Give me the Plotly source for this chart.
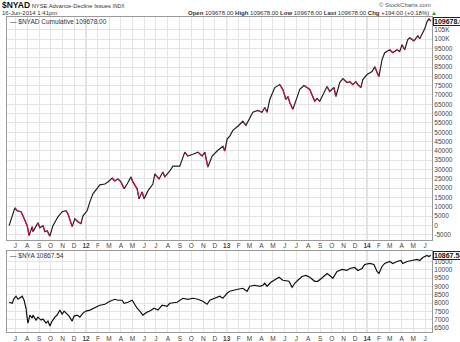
import plotly.graph_objects as go

# ---- $NYAD cumulative A/D line ----
nyad_dates = [
    "2011-06-15", "2011-06-30", "2011-07-06", "2011-07-16", "2011-07-21", "2011-08-01",
    "2011-08-06", "2011-08-14", "2011-08-16", "2011-08-29", "2011-09-03", "2011-09-11",
    "2011-09-16", "2011-09-22", "2011-09-29", "2011-10-07", "2011-10-20", "2011-10-31",
    "2011-11-10", "2011-11-15", "2011-11-26", "2011-12-03", "2011-12-11", "2011-12-19",
    "2011-12-24", "2012-01-04", "2012-01-11", "2012-01-19", "2012-02-06", "2012-02-19",
    "2012-02-27", "2012-03-09", "2012-03-16", "2012-03-24", "2012-04-01", "2012-04-09",
    "2012-04-17", "2012-04-27", "2012-05-02", "2012-05-13", "2012-05-18", "2012-05-26",
    "2012-05-31", "2012-06-10", "2012-06-23", "2012-06-28", "2012-07-09", "2012-07-19",
    "2012-07-24", "2012-08-06", "2012-08-14", "2012-09-01", "2012-09-14", "2012-09-22",
    "2012-10-05", "2012-10-18", "2012-10-29", "2012-11-05", "2012-11-13", "2012-11-24",
    "2012-12-07", "2012-12-14", "2012-12-22", "2012-12-27", "2013-01-02", "2013-01-09",
    "2013-01-17", "2013-01-30", "2013-02-12", "2013-02-20", "2013-03-02", "2013-03-10",
    "2013-03-23", "2013-04-03", "2013-04-10", "2013-04-16", "2013-04-23", "2013-05-06",
    "2013-05-19", "2013-05-27", "2013-06-04", "2013-06-09", "2013-06-14", "2013-06-22",
    "2013-07-03", "2013-07-10", "2013-07-21", "2013-07-29", "2013-08-05", "2013-08-18",
    "2013-08-24", "2013-08-31", "2013-09-11", "2013-09-19", "2013-09-26", "2013-10-07",
    "2013-10-12", "2013-10-22", "2013-10-30", "2013-11-10", "2013-11-17", "2013-11-25",
    "2013-12-03", "2013-12-08", "2013-12-16", "2013-12-21", "2014-01-01", "2014-01-14",
    "2014-01-21", "2014-01-27", "2014-02-01", "2014-02-09", "2014-02-16", "2014-03-01",
    "2014-03-09", "2014-03-20", "2014-03-27", "2014-04-02", "2014-04-09", "2014-04-17",
    "2014-04-22", "2014-05-03", "2014-05-13", "2014-05-18", "2014-05-26", "2014-05-31",
    "2014-06-06", "2014-06-11", "2014-06-16",
]
nyad_values = [
    -200, 9400, 7800, 7300, 5100, -200,
    -5500, -700, -3400, 1400, -1300, -200,
    -3400, -2900, -5800, -200, 4600, 7300,
    7800, 6200, -700, 3500, 1900, 900,
    5100, 7800, 12600, 16900, 21700, 22200,
    23300, 25400, 23800, 24900, 23300, 19600,
    22200, 26000, 23300, 19600, 14200, 18000,
    14200, 18500, 22200, 27600, 24900, 28600,
    26000, 29200, 31800, 31800, 39300, 37200,
    38200, 39300, 37200, 39300, 31300, 37200,
    39900, 40900, 42500, 39900, 46300, 47900,
    51000, 53200, 55900, 53700, 58000, 60700,
    61700, 60700, 63300, 60700, 67600, 74000,
    75600, 73000, 67600, 69200, 66000, 62300,
    68700, 73000, 75100, 74000, 73000, 66600,
    68200, 66600, 70800, 74600, 71900, 74000,
    69200, 76700, 78800, 76700, 77200, 75600,
    77200, 75600, 74000, 78300, 81000, 82600,
    85200, 82000, 79900, 89000, 92700, 94300,
    92700, 94300, 93300, 97000, 94300, 99700,
    100700, 99100, 101800, 100200, 103400, 105500,
    109300, 110900, 109678,
]

# ---- $NYA NYSE Composite ----
nya_dates = [
    "2011-06-15", "2011-06-23", "2011-06-28", "2011-07-03", "2011-07-08", "2011-07-19",
    "2011-07-24", "2011-07-29", "2011-08-01", "2011-08-03", "2011-08-08", "2011-08-14",
    "2011-08-16", "2011-08-24", "2011-08-29", "2011-09-06", "2011-09-11", "2011-09-19",
    "2011-09-24", "2011-09-29", "2011-10-05", "2011-10-12", "2011-10-18", "2011-10-25",
    "2011-10-31", "2011-11-05", "2011-11-13", "2011-11-18", "2011-11-26", "2011-12-01",
    "2011-12-09", "2011-12-16", "2011-12-24", "2012-01-01", "2012-01-11", "2012-01-24",
    "2012-02-06", "2012-02-19", "2012-03-03", "2012-03-16", "2012-03-24", "2012-04-04",
    "2012-04-09", "2012-04-19", "2012-04-30", "2012-05-05", "2012-05-13", "2012-05-20",
    "2012-05-28", "2012-06-08", "2012-06-15", "2012-06-26", "2012-07-06", "2012-07-17",
    "2012-07-30", "2012-08-06", "2012-08-25", "2012-09-09", "2012-09-22", "2012-10-05",
    "2012-10-18", "2012-10-31", "2012-11-11", "2012-11-18", "2012-12-01", "2012-12-14",
    "2012-12-22", "2013-01-02", "2013-01-09", "2013-01-17", "2013-01-30", "2013-02-12",
    "2013-02-23", "2013-03-02", "2013-03-15", "2013-03-28", "2013-04-05", "2013-04-10",
    "2013-04-16", "2013-04-26", "2013-05-06", "2013-05-17", "2013-05-27", "2013-06-07",
    "2013-06-12", "2013-06-20", "2013-06-27", "2013-07-05", "2013-07-16", "2013-07-26",
    "2013-08-05", "2013-08-18", "2013-08-26", "2013-09-08", "2013-09-19", "2013-09-26",
    "2013-10-04", "2013-10-15", "2013-10-28", "2013-11-10", "2013-11-17", "2013-11-30",
    "2013-12-08", "2013-12-19", "2013-12-26", "2014-01-08", "2014-01-19", "2014-01-27",
    "2014-02-01", "2014-02-09", "2014-02-16", "2014-03-01", "2014-03-09", "2014-03-20",
    "2014-03-30", "2014-04-04", "2014-04-15", "2014-04-28", "2014-05-11", "2014-05-18",
    "2014-05-26", "2014-06-06", "2014-06-11", "2014-06-16",
]
nya_values = [
    8050, 7990, 8290, 8410, 8230, 8410,
    8170, 7690, 7100, 6800, 7280, 7100,
    7280, 6980, 7160, 6980, 7040, 6800,
    6920, 6620, 6920, 7160, 7280, 7580,
    7340, 7520, 7340, 7220, 6920, 7220,
    7280, 7160, 7400, 7520, 7580, 7750,
    7870, 7930, 8110, 8230, 8170, 8170,
    7990, 8050, 8170, 7990, 7690, 7520,
    7280, 7460, 7520, 7690, 7580, 7870,
    7810, 7990, 8050, 8290, 8230, 8290,
    8230, 8110, 7930, 8170, 8290, 8410,
    8290, 8590, 8710, 8770, 8830, 8890,
    8710, 9010, 9070, 9010, 9070, 9190,
    9010, 9250, 9370, 9550, 9370, 9310,
    9310, 8950, 9190, 9370, 9600, 9660,
    9550, 9310, 9310, 9550, 9780, 9660,
    9490, 9900, 10020, 9960, 10080, 10140,
    9960, 10080, 10320, 10380, 10320, 9900,
    9780, 10200, 10380, 10500, 10380, 10500,
    10560, 10380, 10500, 10560, 10620, 10560,
    10740, 10860, 10800, 10867.54,
]

# axis ticks
month_ticks = [
    "2011-07-01", "2011-08-01", "2011-09-01", "2011-10-01", "2011-11-01", "2011-12-01",
    "2012-01-01", "2012-02-01", "2012-03-01", "2012-04-01", "2012-05-01", "2012-06-01",
    "2012-07-01", "2012-08-01", "2012-09-01", "2012-10-01", "2012-11-01", "2012-12-01",
    "2013-01-01", "2013-02-01", "2013-03-01", "2013-04-01", "2013-05-01", "2013-06-01",
    "2013-07-01", "2013-08-01", "2013-09-01", "2013-10-01", "2013-11-01", "2013-12-01",
    "2014-01-01", "2014-02-01", "2014-03-01", "2014-04-01", "2014-05-01", "2014-06-01",
]
month_text = [
    "J", "A", "S", "O", "N", "D",
    "<b>12</b>", "F", "M", "A", "M", "J",
    "J", "A", "S", "O", "N", "D",
    "<b>13</b>", "F", "M", "A", "M", "J",
    "J", "A", "S", "O", "N", "D",
    "<b>14</b>", "F", "M", "A", "M", "J",
]
year_lines = ["2012-01-01", "2013-01-01", "2014-01-01"]
nyad_ticks = list(range(-5000, 105001, 5000))
nyad_tick_text = [("%dK" % (v // 1000)) if v >= 100000 else str(v) for v in nyad_ticks]
nya_ticks = [6500, 7000, 7500, 8000, 8500, 9000, 9500, 10000, 10500]
nya_tick_text = [str(v) for v in nya_ticks]

W, H = 460, 342
def px(x):
    return x / W
def py(y):
    return 1 - y / H

X_RANGE = ["2011-06-09 12:00", "2014-06-19"]
UP = "#222222"
DOWN = "#cc1040"
GRID = "#e4e4e4"
FONT = "Liberation Sans"

fig = go.Figure()

# NYAD: full line in black, declining segments in red on top
fig.add_trace(go.Scatter(x=nyad_dates, y=nyad_values, mode="lines",
                         line=dict(color=UP, width=1.2), xaxis="x", yaxis="y",
                         hoverinfo="skip"))
dx, dy = [], []
for i in range(len(nyad_values) - 1):
    if nyad_values[i + 1] < nyad_values[i]:
        dx += [nyad_dates[i], nyad_dates[i + 1], None]
        dy += [nyad_values[i], nyad_values[i + 1], None]
fig.add_trace(go.Scatter(x=dx, y=dy, mode="lines", connectgaps=False,
                         line=dict(color=DOWN, width=1.2), xaxis="x", yaxis="y",
                         hoverinfo="skip"))

fig.add_trace(go.Scatter(x=nya_dates, y=nya_values, mode="lines",
                         line=dict(color="#111111", width=1.2), xaxis="x2", yaxis="y2",
                         hoverinfo="skip"))

axis_common = dict(showgrid=True, gridcolor=GRID, gridwidth=1, showline=True,
                   linecolor="#9a9a9a", linewidth=1, mirror=True, zeroline=False,
                   ticks="", tickfont=dict(family=FONT, size=6.5, color="#444444"))

fig.update_layout(
    width=W, height=H, margin=dict(l=0, r=0, t=0, b=0),
    paper_bgcolor="white", plot_bgcolor="white", showlegend=False,
    font=dict(family=FONT, color="#222222"),
    xaxis=dict(domain=[px(7), px(432)], range=X_RANGE, type="date",
               tickmode="array", tickvals=month_ticks, ticktext=month_text,
               anchor="y", **axis_common),
    yaxis=dict(domain=[py(241), py(17)], range=[-7670, 111940], side="right",
               tickmode="array", tickvals=nyad_ticks, ticktext=nyad_tick_text,
               anchor="x", **axis_common),
    xaxis2=dict(domain=[px(7), px(432)], range=X_RANGE, type="date",
                tickmode="array", tickvals=month_ticks, ticktext=month_text,
                anchor="y2", **axis_common),
    yaxis2=dict(domain=[py(334), py(252)], range=[6261, 11157], side="right",
                tickmode="array", tickvals=nya_ticks, ticktext=nya_tick_text,
                anchor="x2", **axis_common),
)

shapes = []
for d in year_lines:
    for xr, yr in (("x", "y domain"), ("x2", "y2 domain")):
        shapes.append(dict(type="line", xref=xr, yref=yr, x0=d, x1=d, y0=0, y1=1,
                           line=dict(color="#c4c4c4", width=1), layer="below"))
fig.update_layout(shapes=shapes)

ann = []
def text(x, y, s, size=7, color="#222222", xanchor="left", **kw):
    ann.append(dict(x=px(x), y=py(y), xref="paper", yref="paper", text=s,
                    showarrow=False, xanchor=xanchor, yanchor="middle",
                    font=dict(family=FONT, size=size, color=color), **kw))

text(0, 5, "<b><span style='font-size:8.5px;color:#111111'>$NYAD</span></b> "
           "NYSE Advance-Decline Issues "
           "<span style='font-size:5px'>INDX</span>", size=5.8, color="#333333")
text(0, 13, "16-Jun-2014 1:41pm", size=6, color="#333333")
text(377, 5, "© StockCharts.com", size=6, color="#555555")
text(186, 13, "<b>Open</b> 109678.00 <b>High</b> 109678.00 <b>Low</b> 109678.00 "
              "<b>Last</b> 109678.00 <b>Chg</b> +194.00 (+0.18%) "
              "<span style='color:#1a9a1a'>▲</span>", size=6, color="#333333")
text(8, 22, "— $NYAD Cumulative 109678.00", size=6.5, color="#333333")
text(8, 257, "— $NYA 10867.54", size=6.5, color="#333333")

# last-value boxes on the right scale
ann.append(dict(x=px(433), y=nyad_values[-1], xref="paper", yref="y",
                text="<b>109678.00</b>", showarrow=False, xanchor="left",
                yanchor="middle", bgcolor="white", bordercolor="#222222",
                borderwidth=1, borderpad=0,
                font=dict(family=FONT, size=7, color="#111111")))
ann.append(dict(x=px(433), y=nya_values[-1], xref="paper", yref="y2",
                text="<b>10867.54</b>", showarrow=False, xanchor="left",
                yanchor="middle", bgcolor="white", bordercolor="#222222",
                borderwidth=1, borderpad=0,
                font=dict(family=FONT, size=7, color="#111111")))
fig.update_layout(annotations=ann)

fig.write_html("out.html")
